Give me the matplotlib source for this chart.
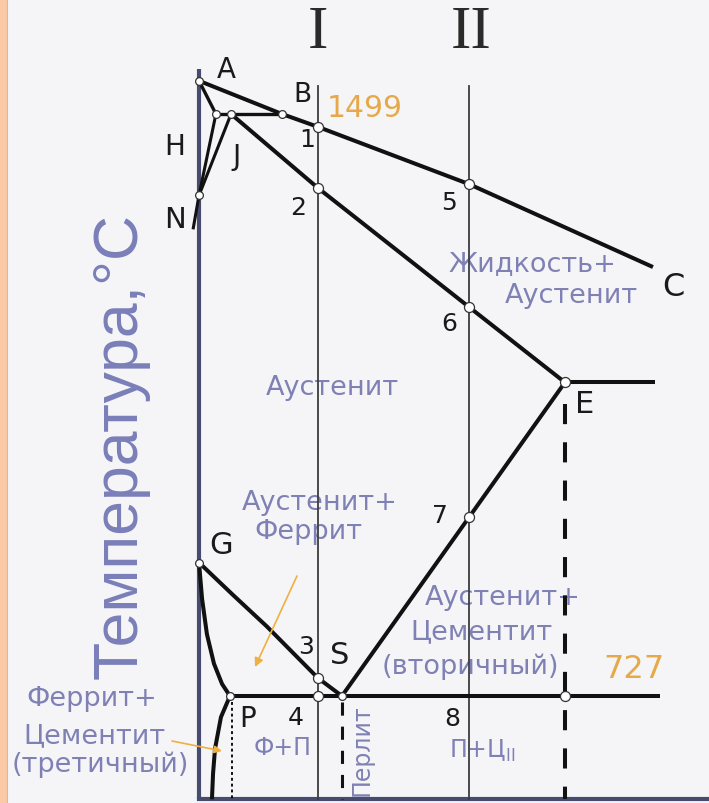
import matplotlib
matplotlib.use("Agg")
import matplotlib.pyplot as plt
from matplotlib.patches import Rectangle
from matplotlib.lines import Line2D

# ---------------- data (x: % C, schematic; y: temperature, °C) ----------------
liq_x = [0.0, 0.461, 0.66, 1.5, 2.522]          # A - B - 1 - 5 - C
liq_t = [1543, 1499, 1482, 1406, 1296]
sol_x = [0.178, 0.66, 1.5, 2.033]               # J - 2 - 6 - E
sol_t = [1499, 1401, 1243, 1143]
peri_x = [0.094, 0.461]                         # H - J - B
peri_t = [1499, 1499]
ah_x = [0.0, 0.094]
ah_t = [1543, 1499]
hn_x = [0.094, 0.0]
hn_t = [1499, 1391]
jn_x = [0.178, 0.0, -0.033]
jn_t = [1499, 1391, 1346]
ecf_x = [2.033, 2.533]
ecf_t = [1143, 1143]
es_x = [2.033, 1.5, 0.794]                      # E - 7 - S
es_t = [1143, 964, 727]
gs_x = [0.0, 0.189, 0.378, 0.66, 0.794]         # G - 3 - S
gs_t = [904, 861, 819, 751, 727]
gp_x = [0.0, 0.017, 0.044, 0.083, 0.128, 0.172]
gp_t = [904, 856, 809, 770, 743, 727]
pq_x = [0.172, 0.122, 0.089, 0.078, 0.072]
pq_t = [727, 699, 657, 624, 590]
psk_x = [0.172, 2.561]
psk_t = [727, 727]

alloy_x = [0.66, 1.5]
alloy_top = 1536
t_bottom = 590
axis_top = 1559

big_pts_x = [0.66, 0.66, 1.5, 1.5, 1.5, 0.66, 0.66, 2.033, 2.033]
big_pts_t = [1482, 1401, 1406, 1243, 964, 751, 727, 1143, 727]
small_pts_x = [0.0, 0.094, 0.178, 0.461, 0.0, 0.0, 0.794, 0.172]
small_pts_t = [1543, 1499, 1499, 1499, 1391, 904, 727, 727]

# ---------------- figure ----------------
W, H = 709, 804
fig = plt.figure(figsize=(W / 100, H / 100), dpi=100, facecolor="#f5f5f7")
ax = fig.add_axes([0, 0, 1, 1])
ax.set_facecolor("#f5f5f7")

X0, SX = 199.0, 180.0
Y0, SY = 115.0, 1.32645


def at(px, py):
    return ((px - X0) / SX, 1499 - (py - Y0) * SY)


ax.set_xlim(at(0, 0)[0], at(W, 0)[0])
ax.set_ylim(at(0, H)[1], at(0, 0)[1])
ax.axis("off")

# left peach border
fig.patches.append(Rectangle((0, 0), 7 / W, 1, transform=fig.transFigure,
                             facecolor="#fcc9a5", edgecolor="none", zorder=0))
fig.lines.append(Line2D([7.5 / W, 7.5 / W], [0, 1], transform=fig.transFigure,
                        color="#c4bcc4", lw=0.8))

K = "#111111"
LW = 2.9
axis_c = "#474c6e"

# axes lines
ax.plot([0, 0], [t_bottom, axis_top], color=axis_c, lw=3.0, zorder=3, solid_capstyle="butt")
ax.plot([0, at(W, 0)[0]], [t_bottom, t_bottom], color=axis_c, lw=3.0, zorder=3)

# alloy verticals
for xa in alloy_x:
    ax.plot([xa, xa], [t_bottom, alloy_top], color="#3d3d3d", lw=1.3, zorder=4)

# phase lines
for xs, ts, lw in [(liq_x, liq_t, LW), (sol_x, sol_t, LW), (peri_x, peri_t, 2.4),
                   (ah_x, ah_t, 2.4), (hn_x, hn_t, 2.2), (jn_x, jn_t, 2.2),
                   (ecf_x, ecf_t, LW), (es_x, es_t, LW), (gs_x, gs_t, LW),
                   (gp_x, gp_t, LW), (pq_x, pq_t, LW), (psk_x, psk_t, LW)]:
    ax.plot(xs, ts, color=K, lw=lw, zorder=5, solid_capstyle="butt",
            solid_joinstyle="round")

# dashed verticals
ax.plot([2.033, 2.033], [at(0, 405)[1], t_bottom], color=K, lw=2.9,
        dashes=(5, 4.5), zorder=5)
ax.plot([0.794, 0.794], [at(0, 703)[1], t_bottom], color=K, lw=2.2,
        dashes=(4.3, 3.6), zorder=5)
ax.plot([0.183, 0.183], [at(0, 703)[1], t_bottom], color=K, lw=1.4,
        dashes=(1.5, 1.5), zorder=5)

# markers
ax.plot(big_pts_x, big_pts_t, "o", ms=7.2, mfc="white", mec="#333333", mew=0.9, zorder=7)
ax.plot(small_pts_x, small_pts_t, "o", ms=5.6, mfc="white", mec="#333333", mew=0.9, zorder=7)

# ---------------- text ----------------
def lab(px, py, s, size=20, color="#1a1a1a", family="DejaVu Sans", **kw):
    x, y = at(px, py)
    ax.text(x, y, s, fontsize=size, color=color, family=family,
            ha="center", va="center", zorder=kw.pop("zorder", 6), **kw)


lab(318, 33, "I", size=44, family="Liberation Serif", color="#2a2a2a")
lab(471, 33, "II", size=44, family="Liberation Serif", color="#2a2a2a")

for px, py, s, sz in [(226, 70, "A", 20), (302, 95, "B", 19), (175, 147, "H", 20),
                      (237, 157, "J", 20), (175, 220, "N", 21), (673, 287, "C", 23),
                      (585, 405, "E", 22), (221, 545, "G", 22), (340, 655, "S", 22),
                      (248, 719, "P", 20)]:
    lab(px, py, s, size=sz)
for px, py, s in [(307, 140, "1"), (298, 208, "2"), (449, 203, "5"), (449, 324, "6"),
                  (440, 516, "7"), (306, 647, "3"), (296, 718, "4"), (452, 719, "8")]:
    lab(px, py, s, size=18)

ORG = "#e6a94a"
lab(365, 108, "1499", size=21.5, color=ORG)
lab(634, 670, "727", size=23, color=ORG)

REG = "#7f81b5"
RS = 19.5
for px, py, s in [(532, 264, "Жидкость+"), (571, 296, "Аустенит"),
                  (332, 388, "Аустенит"),
                  (320, 503, "Аустенит+"), (308, 532, "Феррит"),
                  (503, 598, "Аустенит+"), (481, 632, "Цементит"), (470, 667, "(вторичный)"),
                  (92, 699, "Феррит+"), (94, 736, "Цементит"), (100, 765, "(третичный)")]:
    lab(px, py, s, size=RS, color=REG, zorder=3.5)

lab(283, 748, "Ф+П", size=17, color=REG, zorder=3.5)
lab(482, 751, "П+Ц$_{\\mathrm{II}}$", size=17, color=REG, zorder=3.5)
lab(362, 750, "Перлит", size=17, color=REG, rotation=90, zorder=3.5)
lab(120, 446, "Температура,°C", size=45, color="#7b7fb9",
    family="Liberation Sans", rotation=90)

# orange arrows
ax.annotate("", xy=at(255, 668), xytext=at(297, 577),
            arrowprops=dict(arrowstyle="-|>", color="#f0b040", lw=1.2,
                            mutation_scale=13, shrinkA=0, shrinkB=0), zorder=6)
ax.annotate("", xy=at(222, 752), xytext=at(172, 742),
            arrowprops=dict(arrowstyle="-|>", color="#f0b040", lw=1.2,
                            mutation_scale=11, shrinkA=0, shrinkB=0), zorder=6)

fig.savefig("out.png", dpi=100, facecolor=fig.get_facecolor())
